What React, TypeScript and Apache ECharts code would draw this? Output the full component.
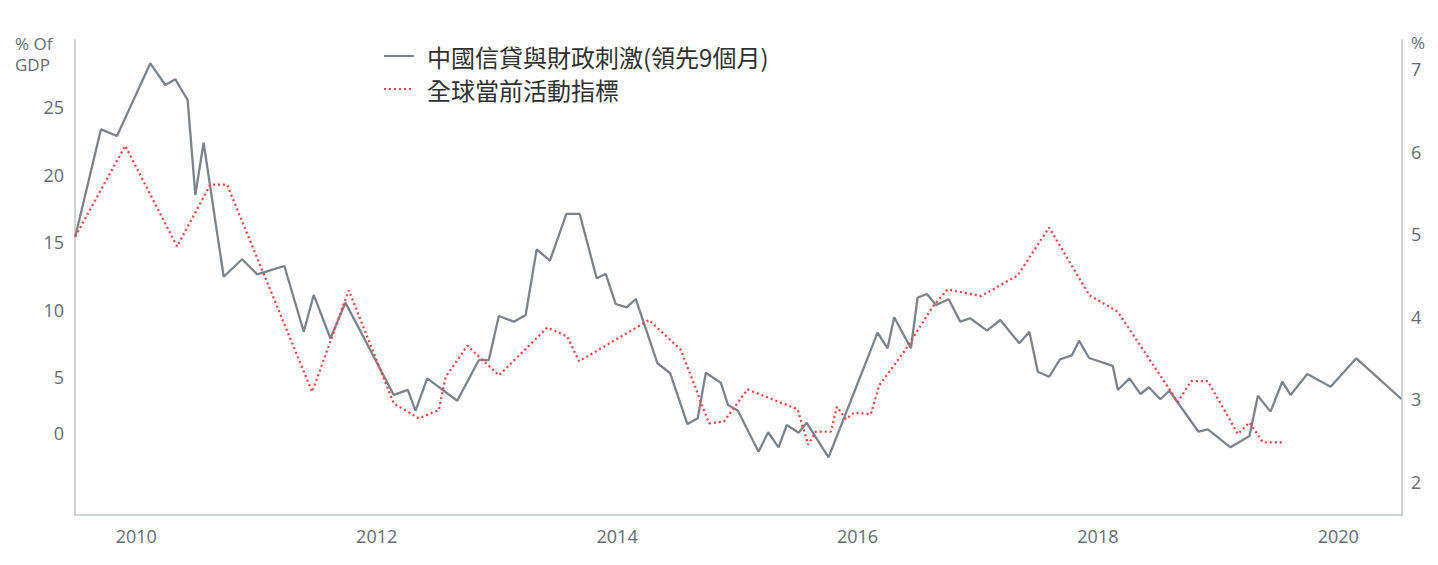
import React, { useEffect, useRef } from "react";
import * as echarts from "echarts";

// China credit & fiscal impulse (% of GDP, lead 9 months) — x in decimal years
const creditX = [
  2009.492, 2009.706, 2009.839, 2010.117, 2010.241, 2010.325, 2010.427, 2010.491, 2010.56, 2010.727,
  2010.88, 2011.005, 2011.232, 2011.393, 2011.476, 2011.615, 2011.74, 2012.142, 2012.259, 2012.323,
  2012.42, 2012.67, 2012.85, 2012.933, 2013.016, 2013.141, 2013.239, 2013.331, 2013.441, 2013.578,
  2013.689, 2013.83, 2013.905, 2013.988, 2014.08, 2014.155, 2014.336, 2014.441, 2014.585, 2014.671,
  2014.738, 2014.863, 2014.923, 2015.004, 2015.177, 2015.257, 2015.343, 2015.412, 2015.51, 2015.576,
  2015.759, 2016.167, 2016.25, 2016.305, 2016.444, 2016.5, 2016.578, 2016.653, 2016.759, 2016.855,
  2016.938, 2017.077, 2017.188, 2017.346, 2017.43, 2017.5, 2017.594, 2017.685, 2017.783, 2017.843,
  2017.927, 2018.124, 2018.166, 2018.263, 2018.354, 2018.424, 2018.52, 2018.595, 2018.837, 2018.915,
  2019.103, 2019.261, 2019.331, 2019.436, 2019.534, 2019.603, 2019.742, 2019.936, 2020.15, 2020.525,
];
const creditY = [
  15.4, 23.37, 22.88, 28.27, 26.66, 27.08, 25.55, 18.5, 22.38, 12.43,
  13.73, 12.61, 13.23, 8.35, 11.08, 7.86, 10.51, 3.66, 4.03, 2.47,
  4.89, 3.23, 6.25, 6.25, 9.52, 9.1, 9.59, 14.47, 13.62, 17.09,
  17.09, 12.32, 12.64, 10.41, 10.16, 10.78, 6.01, 5.27, 1.5, 1.93,
  5.31, 4.57, 2.91, 2.51, -0.55, 0.89, -0.23, 1.43, 0.86, 1.6,
  -0.97, 8.28, 7.12, 9.42, 7.12, 10.88, 11.15, 10.33, 10.76, 9.1,
  9.35, 8.43, 9.22, 7.49, 8.35, 5.38, 5.01, 6.3, 6.59, 7.69,
  6.4, 5.81, 4.03, 4.89, 3.73, 4.23, 3.34, 3.97, 0.93, 1.11,
  -0.23, 0.61, 3.6, 2.42, 4.64, 3.66, 5.21, 4.27, 6.38, 3.36,
];

// Global current activity indicator (%)
const activityX = [
  2009.492, 2009.908, 2010.339, 2010.616, 2010.755, 2011.463, 2011.768, 2012.142, 2012.351, 2012.517,
  2012.573, 2012.754, 2013.017, 2013.42, 2013.586, 2013.683, 2014.266, 2014.53, 2014.765, 2014.888,
  2015.085, 2015.501, 2015.59, 2015.654, 2015.779, 2015.829, 2015.903, 2015.972, 2016.111, 2016.181,
  2016.389, 2016.625, 2016.75, 2017.028, 2017.333, 2017.594, 2017.929, 2018.166, 2018.665, 2018.776,
  2018.915, 2019.165, 2019.261, 2019.373, 2019.553,
];
const activityY = [
  4.97, 6.07, 4.85, 5.6, 5.6, 3.09, 4.32, 2.95, 2.77, 2.87,
  3.27, 3.65, 3.29, 3.87, 3.76, 3.46, 3.96, 3.6, 2.71, 2.73,
  3.12, 2.88, 2.45, 2.61, 2.61, 2.91, 2.76, 2.84, 2.82, 3.17,
  3.58, 4.12, 4.33, 4.25, 4.5, 5.08, 4.26, 4.06, 2.97, 3.22,
  3.22, 2.58, 2.72, 2.48, 2.48,
];

const yearTicks = [2010, 2012, 2014, 2016, 2018, 2020];
const leftTicks = [0, 5, 10, 15, 20, 25];
const rightTicks = [2, 3, 4, 5, 6, 7];

const seriesNames = ["中國信貸與財政刺激(領先9個月)", "全球當前活動指標"];
const leftUnitLines = ["% Of", "GDP"];
const rightUnit = "%";

export default function App() {
  const ref = useRef<HTMLDivElement>(null);
  useEffect(() => {
    if (!ref.current) return;
    const chart = echarts.init(ref.current, undefined, { renderer: "svg" });
    const labelColor = "#626c76";
    const axisColor = "#cdd2d6";
    const font = "'Open Sans', 'Noto Sans CJK TC', sans-serif";
    chart.setOption({
      animation: false,
      backgroundColor: "#ffffff",
      textStyle: { fontFamily: font },
      grid: { left: 75, right: 36, top: 40, bottom: 50, containLabel: false },
      legend: {
        left: 378,
        top: 38,
        orient: "vertical",
        itemWidth: 30,
        itemHeight: 14,
        itemGap: 7,
        data: seriesNames,
        itemStyle: { opacity: 0 },
        textStyle: {
          fontSize: 24,
          lineHeight: 26,
          color: "#303030",
          fontFamily: "'Noto Sans CJK TC', 'Noto Sans', sans-serif",
          padding: [0, 0, 0, 8],
        },
      },
      graphic: [
        {
          type: "text",
          left: 15,
          top: 34,
          style: { text: leftUnitLines[0], fontSize: 17, lineHeight: 18, fill: labelColor, fontFamily: font },
        },
        {
          type: "text",
          left: 15,
          top: 55,
          style: { text: leftUnitLines[1], fontSize: 17, lineHeight: 18, fill: labelColor, fontFamily: font },
        },
        {
          type: "text",
          left: 1411,
          top: 34,
          style: { text: rightUnit, fontSize: 17, fill: labelColor, fontFamily: font },
        },
      ],
      xAxis: {
        type: "value",
        min: 2009.49,
        max: 2020.53,
        axisLine: { show: true, onZero: false, lineStyle: { color: axisColor, width: 2 } },
        axisTick: { show: false },
        splitLine: { show: false },
        axisLabel: {
          customValues: yearTicks,
          formatter: (v: number) => String(Math.round(v)),
          color: labelColor,
          fontSize: 18,
          margin: 12,
          fontFamily: font,
        },
      },
      yAxis: [
        {
          type: "value",
          position: "left",
          min: -5.25,
          max: 30,
          axisLine: { show: true, lineStyle: { color: axisColor, width: 2 } },
          axisTick: { show: false },
          splitLine: { show: false },
          axisLabel: {
            customValues: leftTicks,
            formatter: (v: number) => (v === 0 ? "{z|0}" : String(v)),
            color: labelColor,
            fontSize: 18,
            margin: 11,
            fontFamily: font,
            rich: { z: { fontSize: 18, color: labelColor, fontFamily: font, padding: [0, 0, 22, 0] } },
          },
        },
        {
          type: "value",
          position: "right",
          min: 1.6,
          max: 7.35,
          axisLine: { show: true, lineStyle: { color: axisColor, width: 2 } },
          axisTick: { show: false },
          splitLine: { show: false },
          axisLabel: {
            customValues: rightTicks,
            formatter: (v: number) => String(Math.round(v)),
            color: labelColor,
            fontSize: 18,
            margin: 9,
            fontFamily: font,
          },
        },
      ],
      series: [
        {
          name: seriesNames[0],
          type: "line",
          yAxisIndex: 0,
          symbol: "none",
          data: creditX.map((x, i) => [x, creditY[i]]),
          lineStyle: { color: "#7b848d", width: 2.3 },
          itemStyle: { color: "#7b848d" },
        },
        {
          name: seriesNames[1],
          type: "line",
          yAxisIndex: 1,
          symbol: "none",
          data: activityX.map((x, i) => [x, activityY[i]]),
          lineStyle: { color: "#f04545", width: 2.3, type: [2, 3] },
          itemStyle: { color: "#f04545" },
        },
      ],
    });
    return () => chart.dispose();
  }, []);
  return <div ref={ref} style={{ position: "fixed", left: 0, top: 0, width: 1438, height: 565 }} />;
}
